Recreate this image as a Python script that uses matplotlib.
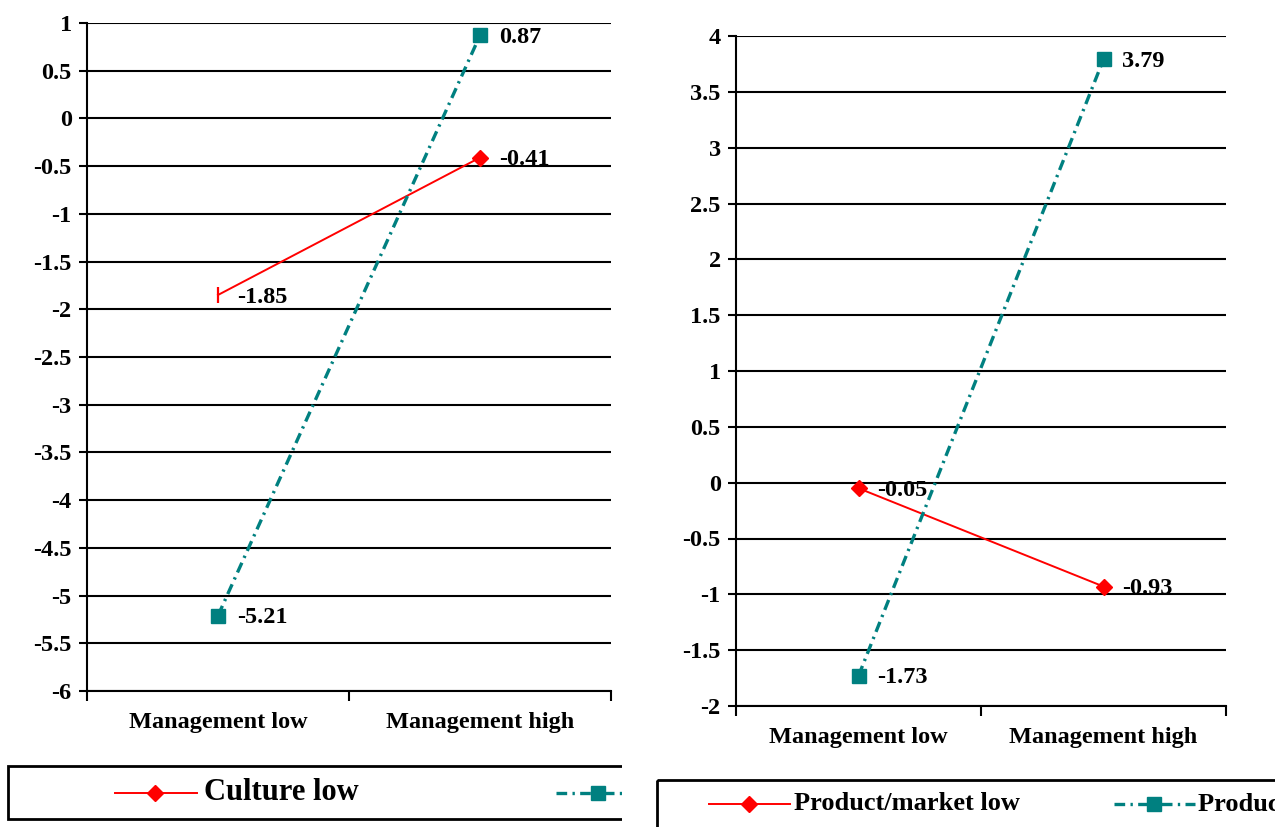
import matplotlib.pyplot as plt
from matplotlib.lines import Line2D
from matplotlib.patches import Rectangle

plt.rcParams['font.family'] = ['Liberation Serif', 'DejaVu Serif']
plt.rcParams['font.weight'] = 'bold'

W, H = 1275, 827
RED = '#FF0000'
TEAL = '#008080'
DASHDOT = (3.2, 1.6, 0.7, 1.6)

categories = ['Management low', 'Management high']

# left panel
culture_low = [-1.85, -0.41]
culture_high = [-5.21, 0.87]
left_ticks = [1, 0.5, 0, -0.5, -1, -1.5, -2, -2.5, -3, -3.5, -4, -4.5, -5, -5.5, -6]

# right panel
pm_low = [-0.05, -0.93]
pm_high = [-1.73, 3.79]
right_ticks = [4, 3.5, 3, 2.5, 2, 1.5, 1, 0.5, 0, -0.5, -1, -1.5, -2]

fig = plt.figure(figsize=(W / 100, H / 100), dpi=100)


def px_axes(x0, y0, x1, y1):
    return fig.add_axes([x0 / W, 1 - y1 / H, (x1 - x0) / W, (y1 - y0) / H])


def panel(ax, low, high, ticks, first_marker):
    x = list(range(len(categories)))
    ax.plot(x, low, color=RED, lw=1.4, zorder=3)
    if first_marker == '|':
        ax.plot(x[:1], low[:1], ls='none', marker='|', ms=12, mew=1.6,
                color=RED, zorder=4)
    else:
        ax.plot(x[:1], low[:1], ls='none', marker='D', ms=8.5, color=RED,
                zorder=4)
    ax.plot(x[1:], low[1:], ls='none', marker='D', ms=8.5, color=RED, zorder=4)
    ax.plot(x, high, color=TEAL, lw=2.4, dashes=DASHDOT, marker='s',
            ms=10, zorder=3)
    for xi, v in zip(x + x, low + high):
        ax.annotate(f'{v:.2f}', (xi, v), xytext=(13.5, -1.5),
                    textcoords='offset points', ha='left', va='center',
                    fontsize=17.5, fontweight='bold')
    ax.set_xlim(-0.5, 1.5)
    ax.set_ylim(min(ticks), max(ticks))
    ax.set_yticks(ticks)
    ax.set_yticklabels([f'{t:g}' for t in ticks])
    for t in ticks:
        ax.axhline(t, color='black', lw=1.5, zorder=1)
    ax.set_xticks([-0.5, 0.5, 1.5])
    ax.set_xticklabels([])
    ax.set_xticks(x, minor=True)
    ax.set_xticklabels(categories, minor=True)
    ax.tick_params(axis='x', which='minor', length=0, pad=15, labelsize=17.5)
    ax.tick_params(axis='x', which='major', length=7, width=1.5)
    ax.tick_params(axis='y', length=6, width=1.5, pad=5, labelsize=17.5)
    for lab in ax.get_xticklabels(minor=True) + ax.get_yticklabels():
        lab.set_fontweight('bold')
    for s in ['top', 'right']:
        ax.spines[s].set_visible(False)
    for s in ['left', 'bottom']:
        ax.spines[s].set_linewidth(1.5)


ax1 = px_axes(87, 23, 611, 691)
panel(ax1, culture_low, culture_high, left_ticks, '|')

ax2 = px_axes(736, 36, 1226, 706)
panel(ax2, pm_low, pm_high, right_ticks, 'D')


def legend_area(x0, y0, x1, y1, box, entries, fs):
    lg = px_axes(x0, y0, x1, y1)
    lg.set_xlim(x0, x1)
    lg.set_ylim(y1, y0)
    lg.axis('off')
    lg.add_patch(Rectangle((box[0], box[1]), box[2] - box[0], box[3] - box[1],
                           fill=False, ec='black', lw=2, clip_on=True))
    for (lx0, lx1, mx, y, tx, label, color, style) in entries:
        if style == 'solid':
            lg.add_line(Line2D([lx0, lx1], [y, y], color=color, lw=1.4))
            lg.add_line(Line2D([mx], [y], marker='D', ms=8.5, color=color))
        else:
            lg.add_line(Line2D([lx0, lx1], [y, y], color=color, lw=2.4,
                               dashes=DASHDOT))
            lg.add_line(Line2D([mx], [y], marker='s', ms=10, color=color))
        lg.text(tx, y, label, ha='left', va='center', fontsize=fs,
                fontweight='bold', clip_on=True)


legend_area(0, 758, 622, 827, (8, 766, 700, 819), [
    (115, 197, 155, 793, 204, 'Culture low', RED, 'solid'),
    (556, 640, 598, 793, 645, 'Culture high', TEAL, 'dash'),
], 22)

legend_area(640, 758, 1275, 827, (657, 780, 1400, 900), [
    (709, 790, 749, 804, 794, 'Product/market low', RED, 'solid'),
    (1114, 1195, 1154, 804, 1198, 'Product/market high', TEAL, 'dash'),
], 19)

fig.savefig('out.png', dpi=100)
